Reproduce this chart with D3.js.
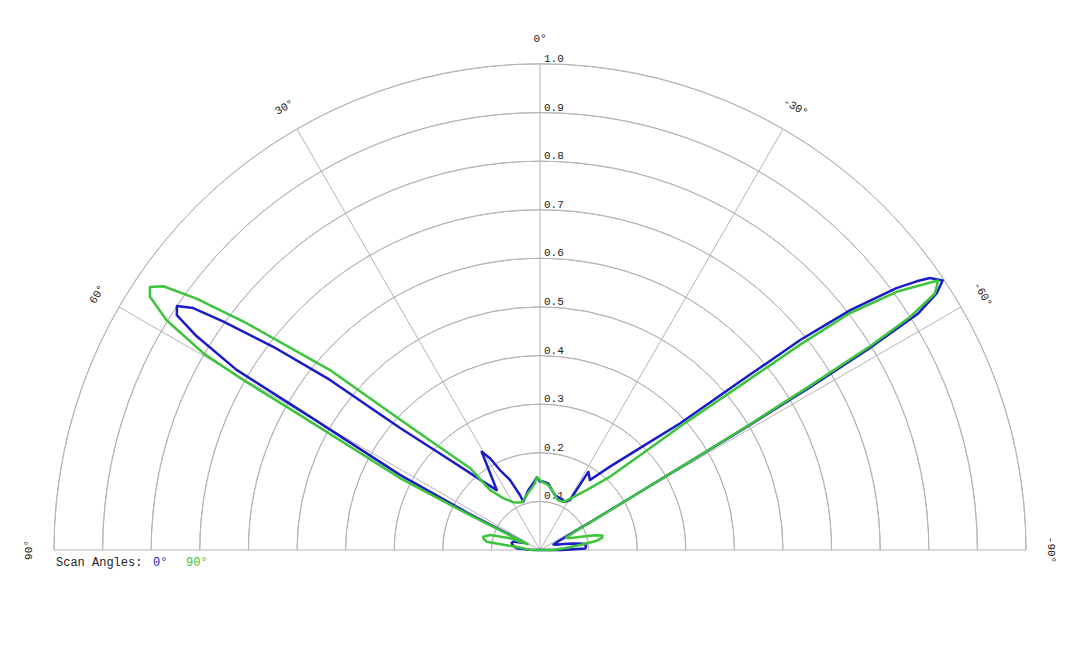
<!DOCTYPE html>
<html>
<head>
<meta charset="utf-8">
<script src="https://cdn.jsdelivr.net/npm/d3@7"></script>
<style>
    body { margin: 0; background: #fff; }
    text { font-family: "Liberation Mono", "Courier New", monospace; }
</style>
</head>
<body>
<svg id="polar-chart"></svg>
<script>
/*--------------------------------------------------------------------------------
----- POLAR PATTERN CHART (normalised gain against angle, two scan angles)
--------------------------------------------------------------------------------*/

// Radial ticks (rings) and angular ticks (spokes)
const ring_values = [0.1, 0.2, 0.3, 0.4, 0.5, 0.6, 0.7, 0.8, 0.9, 1.0];
const ring_labels = ["0.1", "0.2", "0.3", "0.4", "0.5", "0.6", "0.7", "0.8", "0.9", "1.0"];
const spoke_angles = [-90, -60, -30, 0, 30, 60, 90];
const spoke_labels = ["-90°", "-60°", "-30°", "0°", "30°", "60°", "90°"];

// Legend entries
const scan_names = ["0°", "90°"];

// Scan angle 0° (blue) : angle in degrees, normalised amplitude
const blue_angles = [-90, -88, -85.5, -82, -79, -75.6, -72, -68, -65, -63,
    -61, -60, -59.5, -59.2, -58.9, -58.5, -58, -57.1, -56.2, -55.1,
    -54.5, -53.7, -52.3, -51.1, -49.9, -47.9, -45, -40, -35.5, -31.7,
    -31, -27.4, -21.2, -15.3, -11, -7.1, -2.8, 0, 2.4, 6.1,
    11, 16.2, 19, 20, 23.2, 26.6, 28.6, 30.7, 35.8, 39.7,
    45, 48.9, 51, 52.7, 54.2, 55.1, 56.1, 57.1, 58.1, 59.3,
    59.9, 61.8, 62.8, 63.5, 65, 68, 72.7, 76, 80, 83,
    85.8, 88, 90];
const blue_values = [0.045, 0.093, 0.095, 0.093, 0.07, 0.05, 0.035, 0.03, 0.04, 0.06,
    0.12, 0.22, 0.35, 0.5, 0.65, 0.8, 0.916, 0.972, 0.997, 0.978,
    0.952, 0.91, 0.807, 0.688, 0.538, 0.389, 0.306, 0.224, 0.177, 0.189,
    0.12, 0.112, 0.114, 0.117, 0.126, 0.138, 0.141, 0.141, 0.15, 0.137,
    0.126, 0.111, 0.105, 0.12, 0.157, 0.184, 0.215, 0.235, 0.152, 0.183,
    0.262, 0.382, 0.556, 0.69, 0.803, 0.87, 0.9, 0.89, 0.832, 0.726,
    0.547, 0.327, 0.17, 0.06, 0.035, 0.04, 0.058, 0.06, 0.057, 0.052,
    0.048, 0.02, 0.005];

// Scan angle 90° (green) : angle in degrees, normalised amplitude
const green_angles = [-90, -86, -83, -81, -79, -77, -75, -73, -70.3, -67,
    -64.5, -62.5, -61, -60, -59.5, -59.1, -58.7, -58.3, -57.8, -57,
    -55.9, -55.5, -54.1, -52.6, -51.7, -50.6, -48.6, -46.9, -43.7, -37.9,
    -29.2, -25.6, -19.8, -15.3, -11.3, -7, -4.3, -1.7, 2.4, 4.3,
    7.4, 11.9, 16.1, 20.6, 25, 29.4, 35.4, 39.8, 40.5, 44.7,
    47, 49.4, 52.3, 53.8, 55, 56, 57, 58.4, 59.7, 60.2,
    60.6, 62.8, 63.5, 64.2, 65, 68.7, 73.3, 76.8, 79, 81.1,
    81.8, 83, 86, 90];
const green_values = [0.027, 0.05, 0.083, 0.115, 0.13, 0.132, 0.118, 0.097, 0.076, 0.062,
    0.06, 0.08, 0.13, 0.22, 0.35, 0.5, 0.65, 0.8, 0.9, 0.969,
    0.989, 0.97, 0.906, 0.802, 0.681, 0.532, 0.384, 0.296, 0.209, 0.156,
    0.118, 0.11, 0.109, 0.117, 0.126, 0.135, 0.138, 0.14, 0.15, 0.138,
    0.129, 0.12, 0.111, 0.105, 0.108, 0.113, 0.131, 0.161, 0.222, 0.307,
    0.394, 0.569, 0.763, 0.876, 0.946, 0.968, 0.957, 0.902, 0.802, 0.703,
    0.578, 0.324, 0.17, 0.05, 0.028, 0.066, 0.107, 0.12, 0.118, 0.111,
    0.07, 0.045, 0.028, 0.016];

// Configure the dimensions of the chart
const polar_width = 1080, polar_height = 648;
const polar_center = { x: 540, y: 550 };
const polar_radius = 486;
const blue_color = "#1a1ac8", green_color = "#3cc43c", grid_color = "#b4b4b4";

// Radius scale (amplitude to pixels) and angle scale (degrees, positive to the left)
const r_scale = d3.scaleLinear().domain([0, 1]).range([0, polar_radius]);
const a_scale = d3.scaleLinear().domain([-90, 90]).range([Math.PI / 2, -Math.PI / 2]);

// Create the chart container
const polar_svg = d3.select("#polar-chart")
    .attr("width", polar_width)
    .attr("height", polar_height);

const plot = polar_svg.append("g")
    .attr("transform", "translate(" + polar_center.x + "," + polar_center.y + ")");

// Draw the half rings of the grid
const ring_arc = d3.arc()
    .innerRadius(function (d) { return r_scale(d); })
    .outerRadius(function (d) { return r_scale(d); })
    .startAngle(a_scale(90))
    .endAngle(a_scale(-90));

plot.append("g")
    .selectAll("path")
    .data(ring_values)
    .enter().append("path")
    .attr("d", ring_arc)
    .attr("fill", "none")
    .attr("stroke", grid_color)
    .attr("stroke-width", 1);

// Draw the spokes of the grid
plot.append("g")
    .selectAll("line")
    .data(spoke_angles)
    .enter().append("line")
    .attr("x1", 0)
    .attr("y1", 0)
    .attr("x2", function (d) { return r_scale(1) * Math.sin(a_scale(d)); })
    .attr("y2", function (d) { return -r_scale(1) * Math.cos(a_scale(d)); })
    .attr("stroke", grid_color)
    .attr("stroke-width", 1);

// Add the ring value labels along the 0° spoke
plot.append("g")
    .selectAll("text")
    .data(ring_values)
    .enter().append("text")
    .attr("x", 4)
    .attr("y", function (d) { return -r_scale(d) - 2; })
    .attr("font-size", 11)
    .attr("fill", "#222")
    .text(function (d, i) { return ring_labels[i]; });

// Add the spoke angle labels, turned along the outer ring
const label_radius = r_scale(1) + 22;
plot.append("g")
    .selectAll("text")
    .data(spoke_angles)
    .enter().append("text")
    .attr("transform", function (d) {
        const a = a_scale(d);
        const x = label_radius * Math.sin(a), y = -label_radius * Math.cos(a);
        return "translate(" + x + "," + y + ") rotate(" + (a * 180 / Math.PI) + ")";
    })
    .attr("text-anchor", "middle")
    .attr("font-size", 11)
    .attr("fill", "#222")
    .text(function (d, i) { return spoke_labels[i]; });

// Radial line generator for the pattern curves
const pattern_line = d3.lineRadial()
    .angle(function (d) { return a_scale(d[0]); })
    .radius(function (d) { return r_scale(d[1]); })
    .curve(d3.curveLinearClosed);

// Draw the 0° scan pattern
plot.append("path")
    .datum(d3.zip(blue_angles, blue_values))
    .attr("fill", "none")
    .attr("stroke", blue_color)
    .attr("stroke-width", 2.5)
    .attr("stroke-linejoin", "round")
    .attr("d", pattern_line);

// Draw the 90° scan pattern
plot.append("path")
    .datum(d3.zip(green_angles, green_values))
    .attr("fill", "none")
    .attr("stroke", green_color)
    .attr("stroke-width", 2.5)
    .attr("stroke-linejoin", "round")
    .attr("d", pattern_line);

// Add the legend below the chart
const legend = polar_svg.append("g")
    .attr("font-size", 12);

legend.append("text")
    .attr("x", 56)
    .attr("y", 566)
    .attr("fill", "#222")
    .text("Scan Angles:");

legend.append("text")
    .attr("x", 153)
    .attr("y", 566)
    .attr("fill", blue_color)
    .text(scan_names[0]);

legend.append("text")
    .attr("x", 186)
    .attr("y", 566)
    .attr("fill", green_color)
    .text(scan_names[1]);
</script>
</body>
</html>
